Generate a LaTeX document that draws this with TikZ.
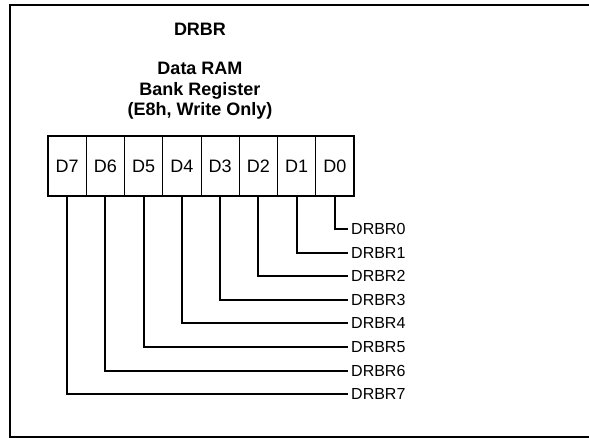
\documentclass[tikz,border=0pt]{standalone}
\usepackage{fontspec}
\setmainfont{Liberation Sans}
\begin{document}
\begin{tikzpicture}[x=1pt,y=1pt,
  cell/.style={draw,line width=0.9pt,minimum width=38.25pt,minimum height=60pt,inner sep=0pt,font=\fontsize{18}{20}\selectfont},
  sig/.style={anchor=west,inner sep=3pt,font=\fontsize{16}{18}\selectfont},
  wire/.style={line width=2pt},
  ttl/.style={font=\bfseries\fontsize{18}{20.5}\selectfont,align=center}]
\useasboundingbox (0,0) rectangle (589,-438);
\draw[line width=2pt] (589,-5) -- (9.5,-5) -- (9.5,-437) -- (589,-437);
\node[ttl] (title) at (200,-29) {DRBR};
\node[ttl] (name) at (200,-91) {Data RAM\\Bank Register\\(E8h, Write Only)};
\foreach \i in {0,...,7}{
  \node[cell] (c\i) at ({48+(7-\i)*38.25+19.125},-166) {D\i};
  \node[sig] (l\i) at (348,{-229-\i*23.6}) {DRBR\i};
}
\draw[line width=2pt] (c7.north west) rectangle (c0.south east);
\foreach \i in {0,...,7}{
  \draw[wire] (c\i.south) |- (l\i.west);
}
\end{tikzpicture}
\end{document}
